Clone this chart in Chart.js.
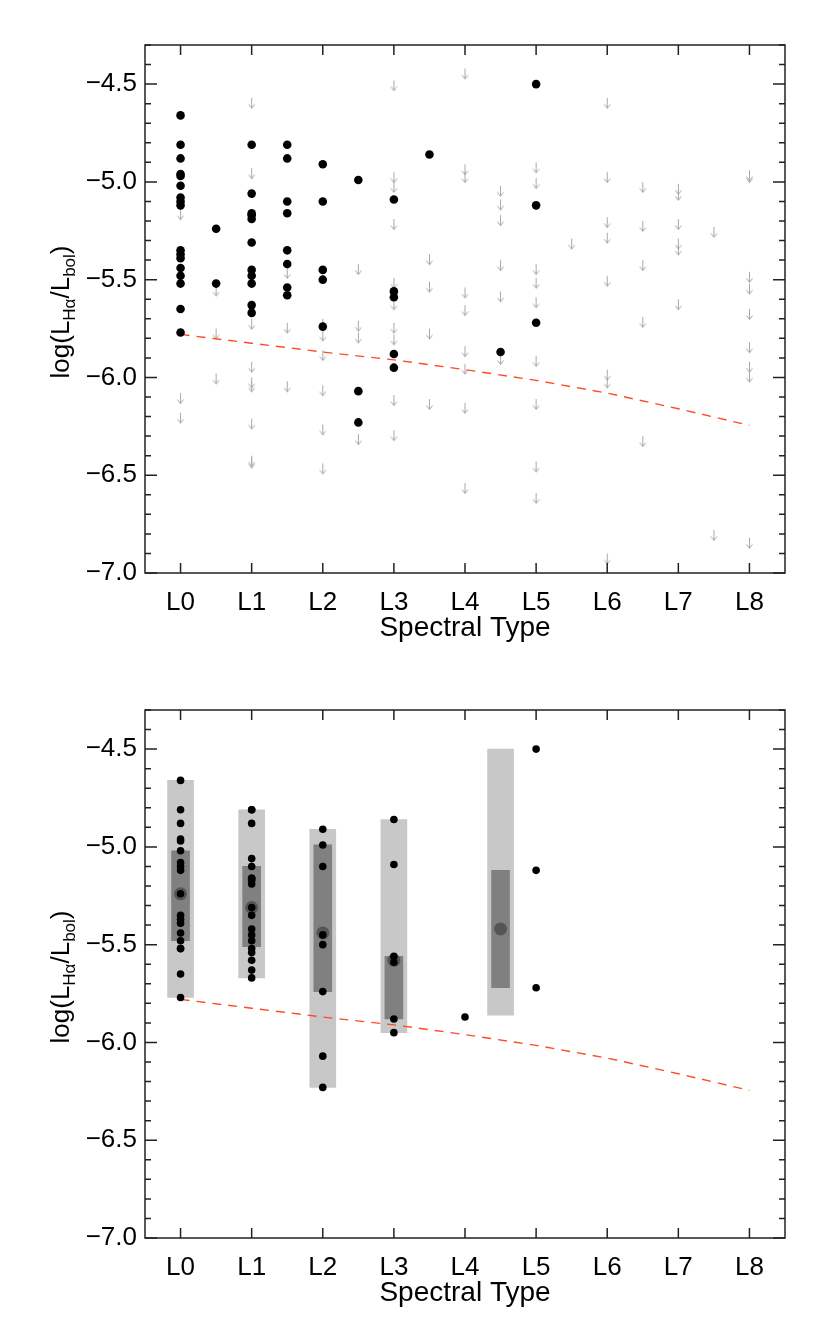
<!DOCTYPE html>
<html>
<head>
<meta charset="utf-8">
<title>H-alpha activity vs spectral type</title>
<script src="https://cdn.jsdelivr.net/npm/chart.js@4.4.1/dist/chart.umd.min.js"></script>
<style>
  body { margin: 0; background: #fff; }
  canvas { display: block; }
</style>
</head>
<body>
<canvas id="topPanel" width="830" height="665"></canvas>
<canvas id="bottomPanel" width="830" height="664"></canvas>
<script>
// axis ticks
const spTypeTicks = [0, 1, 2, 3, 4, 5, 6, 7, 8];
const spTypeLabels = ['L0', 'L1', 'L2', 'L3', 'L4', 'L5', 'L6', 'L7', 'L8'];
const logTicks = [-7.0, -6.5, -6.0, -5.5, -5.0, -4.5];

// H-alpha detections: [spectral type, log(LHa/Lbol) values]
const detections = [
  [0, [-4.66, -4.81, -4.88, -4.96, -4.97, -5.02, -5.08, -5.10, -5.12, -5.35, -5.37, -5.39, -5.44, -5.48, -5.52, -5.65, -5.77]],
  [0.5, [-5.24, -5.52]],
  [1, [-4.81, -5.06, -5.16, -5.17, -5.19, -5.31, -5.45, -5.48, -5.52, -5.63, -5.67]],
  [1.5, [-4.81, -4.88, -5.10, -5.16, -5.35, -5.42, -5.54, -5.58]],
  [2, [-4.91, -5.10, -5.45, -5.50, -5.74]],
  [2.5, [-4.99, -6.07, -6.23]],
  [3, [-5.09, -5.56, -5.59, -5.88, -5.95]],
  [3.5, [-4.86]],
  [4.5, [-5.87]],
  [5, [-4.50, -5.12, -5.72]]
];

// upper limits (non detections)
const upperLimits = [
  [0, [-5.14, -6.08, -6.18]],
  [0.5, [-5.53, -5.75, -5.98]],
  [1, [-4.57, -4.93, -5.70, -5.92, -6.00, -6.02, -6.21, -6.40, -6.41]],
  [1.5, [-5.44, -5.72, -6.02]],
  [2, [-5.70, -5.76, -5.86, -6.04, -6.24, -6.44]],
  [2.5, [-5.42, -5.71, -5.77, -6.29]],
  [3, [-4.48, -4.95, -5.00, -5.19, -5.49, -5.60, -5.72, -5.78, -6.09, -6.27]],
  [3.5, [-5.37, -5.51, -5.75, -6.11]],
  [4, [-4.42, -4.91, -4.95, -5.54, -5.63, -5.84, -5.93, -6.13, -6.54]],
  [4.5, [-5.02, -5.09, -5.17, -5.40, -5.56, -5.88]],
  [5, [-4.90, -4.98, -5.42, -5.49, -5.59, -5.89, -6.11, -6.43, -6.59]],
  [5.5, [-5.29]],
  [6, [-4.57, -4.95, -5.18, -5.26, -5.48, -5.96, -6.00, -6.90]],
  [6.5, [-5.00, -5.20, -5.40, -5.69, -6.30]],
  [7, [-5.01, -5.04, -5.19, -5.29, -5.32, -5.60]],
  [7.5, [-5.23, -6.78]],
  [8, [-4.94, -4.95, -5.46, -5.52, -5.65, -5.82, -5.92, -5.97, -6.82]]
];

// red dashed detection limit
const limitType = [0, 1, 2, 3, 4, 5, 6, 7, 8];
const limitLog = [-5.78, -5.825, -5.87, -5.91, -5.96, -6.015, -6.08, -6.16, -6.245];

// binned statistics (bottom panel)
const binType = [0, 1, 2, 3, 4.5];
const binMin = [-5.77, -5.67, -6.23, -5.95, -5.86];
const binMax = [-4.66, -4.81, -4.91, -4.86, -4.50];
const binQ1 = [-5.48, -5.51, -5.74, -5.88, -5.72];
const binQ3 = [-5.02, -5.10, -4.99, -5.56, -5.12];
const binMedian = [-5.24, -5.31, -5.44, -5.58, -5.42];

const FONT = "'Liberation Sans', Arial, Helvetica, sans-serif";

// little grey down arrow used for upper limits
const arrow = document.createElement('canvas');
arrow.width = 11;
arrow.height = 24;
let a = arrow.getContext('2d');
a.strokeStyle = '#a8a8a8';
a.lineWidth = 1;
a.beginPath();
a.moveTo(5.5, 12); a.lineTo(5.5, 22.5);
a.moveTo(2.5, 18.5); a.lineTo(5.5, 22.5); a.lineTo(8.5, 18.5);
a.stroke();

const toPoints = (list, floor) =>
  list.flatMap(([t, vals]) => vals.map(v => ({x: floor ? Math.floor(t) : t, y: v})));

const limitLine = () => ({
  type: 'line',
  data: limitType.map((t, i) => ({x: t, y: limitLog[i]})),
  borderColor: '#ff4a2a',
  borderWidth: 1.4,
  borderDash: [9, 7],
  pointRadius: 0,
  fill: false,
  order: 2
});

const drawYTitle = (ctx, cx, cy) => {
  const parts = [['log(L', 26, 0], ['H\u03b1', 17, 6], ['/L', 26, 0], ['bol', 17, 6], [')', 26, 0]];
  ctx.save();
  ctx.translate(cx, cy);
  ctx.rotate(-Math.PI / 2);
  let total = 0;
  parts.forEach(p => { ctx.font = p[1] + 'px ' + FONT; total += ctx.measureText(p[0]).width; });
  let x = -total / 2;
  ctx.fillStyle = '#000';
  ctx.textBaseline = 'alphabetic';
  parts.forEach(p => {
    ctx.font = p[1] + 'px ' + FONT;
    ctx.fillText(p[0], x, p[2]);
    x += ctx.measureText(p[0]).width;
  });
  ctx.restore();
};

const framePlugin = {
  id: 'frame',
  afterDraw(chart) {
    const {ctx, chartArea: c, scales: {x, y}} = chart;
    ctx.save();
    ctx.strokeStyle = '#222';
    ctx.lineWidth = 1.5;
    ctx.strokeRect(c.left, c.top, c.right - c.left, c.bottom - c.top);
    ctx.beginPath();
    for (let i = -70; i <= -43; i++) {
      const py = y.getPixelForValue(i / 10);
      const len = i % 5 === 0 ? 12 : 6;
      ctx.moveTo(c.left, py); ctx.lineTo(c.left + len, py);
      ctx.moveTo(c.right, py); ctx.lineTo(c.right - len, py);
    }
    spTypeTicks.forEach(t => {
      const px = x.getPixelForValue(t);
      ctx.moveTo(px, c.bottom); ctx.lineTo(px, c.bottom - 10);
      ctx.moveTo(px, c.top); ctx.lineTo(px, c.top + 10);
    });
    ctx.stroke();
    ctx.restore();
    drawYTitle(ctx, 69, 312);
  }
};

const makePanel = (id, datasets) => {
  const cv = document.getElementById(id);
  const h = cv.height;
  return new Chart(cv, {
    type: 'scatter',
    data: {datasets},
    plugins: [framePlugin],
    options: {
      responsive: false,
      animation: false,
      devicePixelRatio: 1,
      events: [],
      layout: {padding: {top: 45, right: 45, left: 0, bottom: 0}},
      plugins: {legend: {display: false}, tooltip: {enabled: false}},
      scales: {
        x: {
          type: 'linear',
          min: -0.5,
          max: 8.5,
          offset: false,
          grid: {display: false, drawTicks: false},
          border: {display: false},
          afterBuildTicks: s => { s.ticks = spTypeTicks.map(v => ({value: v})); },
          afterFit: s => { s.height = h - 573; },
          ticks: {
            autoSkip: false,
            maxRotation: 0,
            padding: 14,
            color: '#000',
            font: {family: FONT, size: 26},
            callback: v => spTypeLabels[v]
          },
          title: {
            display: true,
            text: 'Spectral Type',
            color: '#000',
            font: {family: FONT, size: 28},
            padding: {top: 0, bottom: h - 628 - 16.8}
          }
        },
        y: {
          type: 'linear',
          min: -7.0,
          max: -4.3,
          beginAtZero: false,
          grid: {display: false, drawTicks: false},
          border: {display: false},
          afterBuildTicks: s => { s.ticks = logTicks.map(v => ({value: v})); },
          afterFit: s => { s.width = 145; },
          ticks: {
            autoSkip: false,
            padding: 8,
            color: '#000',
            font: {family: FONT, size: 26},
            callback: v => (v < 0 ? '\u2212' : '') + Math.abs(v).toFixed(1)
          }
        }
      }
    }
  });
};

// top panel: every object
makePanel('topPanel', [
  {
    data: toPoints(detections, false),
    pointStyle: 'circle',
    pointRadius: 4.3,
    backgroundColor: '#000',
    borderWidth: 0,
    order: 0
  },
  limitLine(),
  {
    data: toPoints(upperLimits, false),
    pointStyle: arrow,
    pointRadius: 3,
    order: 3
  }
]);

// bottom panel: detections binned by integer type
makePanel('bottomPanel', [
  {
    data: toPoints(detections, true),
    pointStyle: 'circle',
    pointRadius: 3.8,
    backgroundColor: '#000',
    borderWidth: 0,
    order: 0
  },
  {
    data: binType.map((t, i) => ({x: t, y: binMedian[i]})),
    pointStyle: 'circle',
    pointRadius: 6.5,
    backgroundColor: '#555',
    borderWidth: 0,
    order: 1
  },
  limitLine(),
  {
    type: 'bar',
    data: binType.map((t, i) => ({x: t, y: [binQ1[i], binQ3[i]]})),
    backgroundColor: '#808080',
    barThickness: 18,
    grouped: false,
    borderWidth: 0,
    order: 3
  },
  {
    type: 'bar',
    data: binType.map((t, i) => ({x: t, y: [binMin[i], binMax[i]]})),
    backgroundColor: '#c8c8c8',
    barThickness: 26,
    grouped: false,
    borderWidth: 0,
    order: 4
  }
]);
</script>
</body>
</html>
